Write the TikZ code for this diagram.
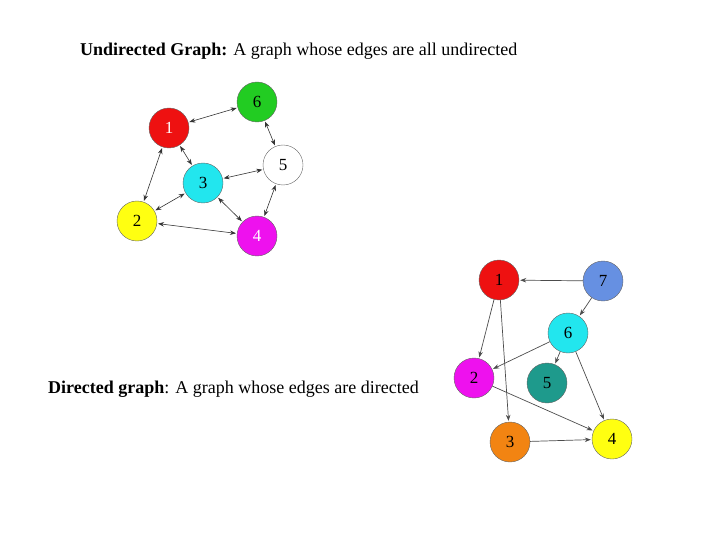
\documentclass[tikz,border=0pt]{standalone}
\usepackage{fontspec}
\setmainfont{Liberation Serif}
\usetikzlibrary{arrows.meta}

\definecolor{vred}{HTML}{EE1111}
\definecolor{vgreen}{HTML}{22CC22}
\definecolor{vcyan}{HTML}{22E6EE}
\definecolor{vyellow}{HTML}{FFFF11}
\definecolor{vmagenta}{HTML}{EE11EE}
\definecolor{vblue}{HTML}{6690E2}
\definecolor{vteal}{HTML}{1E9A8C}
\definecolor{vorange}{HTML}{F28412}

\tikzset{
  vertex/.style={circle, draw=black!60, thin, minimum size=40pt, inner sep=0pt,
    font=\fontsize{17}{17}\selectfont},
  twoway/.style={black!80, line width=0.6pt, {Stealth[length=6pt,width=4.5pt]}-{Stealth[length=6pt,width=4.5pt]}, shorten <=1pt, shorten >=1pt},
  oneway/.style={black!70, line width=0.7pt, -{Stealth[length=6pt,width=4.5pt]}, shorten >=1pt},
  caption/.style={anchor=base west, inner sep=0pt, font=\fontsize{18}{21}\selectfont}
}

\begin{document}
\begin{tikzpicture}[x=1pt, y=-1pt]

    \useasboundingbox (0,0) rectangle (720,540);

    % Titles
    \node[caption] (utitle) at (80,56) {\textbf{Undirected Graph:} A graph whose edges are all undirected};
    \node[caption] (dtitle) at (48,393) {\textbf{Directed graph}: A graph whose edges are directed};

    % Undirected graph
    \node[vertex, fill=vred, text=white]    (u1) at (169,128) {1};
    \node[vertex, fill=vgreen]              (u6) at (257,102) {6};
    \node[vertex, fill=white]               (u5) at (283,165) {5};
    \node[vertex, fill=vcyan]               (u3) at (203,183) {3};
    \node[vertex, fill=vyellow]             (u2) at (137,221) {2};
    \node[vertex, fill=vmagenta, text=white] (u4) at (257,236) {4};

    \draw[twoway] (u1) -- (u6);
    \draw[twoway] (u1) -- (u3);
    \draw[twoway] (u1) -- (u2);
    \draw[twoway] (u2) -- (u3);
    \draw[twoway] (u2) -- (u4);
    \draw[twoway] (u3) -- (u5);
    \draw[twoway] (u3) -- (u4);
    \draw[twoway] (u6) -- (u5);
    \draw[twoway] (u5) -- (u4);

    % Directed graph
    \node[vertex, fill=vred]    (d1) at (499,280) {1};
    \node[vertex, fill=vblue]   (d7) at (603,281) {7};
    \node[vertex, fill=vcyan]   (d6) at (568,333) {6};
    \node[vertex, fill=vmagenta] (d2) at (474,378) {2};
    \node[vertex, fill=vteal]   (d5) at (547,383) {5};
    \node[vertex, fill=vorange] (d3) at (510,442) {3};
    \node[vertex, fill=vyellow] (d4) at (612,439) {4};

    \draw[oneway] (d7) -- (d1);
    \draw[oneway] (d7) -- (d6);
    \draw[oneway] (d1) -- (d2);
    \draw[oneway] (d1) -- (d3);
    \draw[oneway] (d6) -- (d2);
    \draw[oneway] (d6) -- (d5);
    \draw[oneway] (d6) -- (d4);
    \draw[oneway] (d2) -- (d4);
    \draw[oneway] (d3) -- (d4);

\end{tikzpicture}
\end{document}
